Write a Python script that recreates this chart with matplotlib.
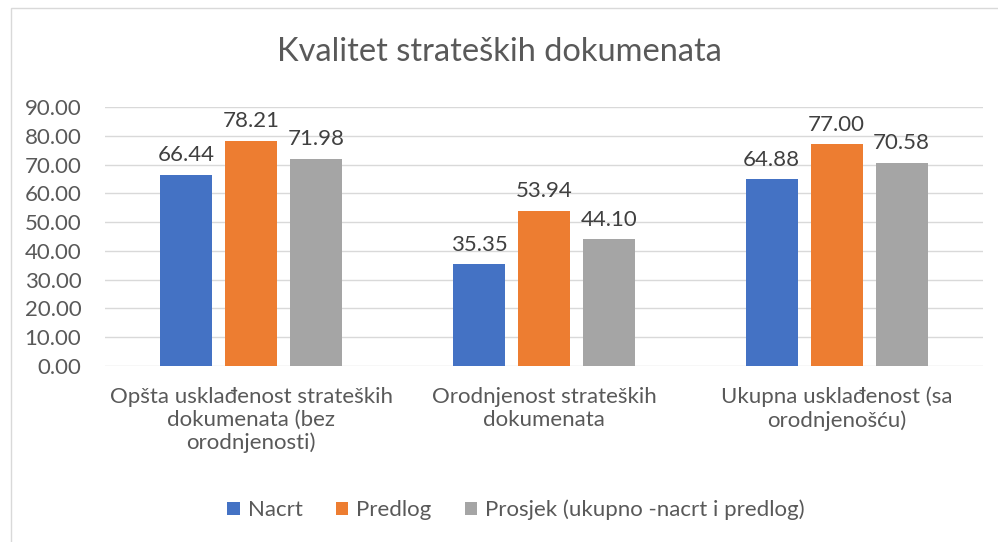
import numpy as np
import matplotlib
matplotlib.use('Agg')
import matplotlib.pyplot as plt
from matplotlib.patches import Rectangle

categories = ['Opšta usklađenost strateških\ndokumenata (bez\norodnjenosti)',
              'Orodnjenost strateških\ndokumenata',
              'Ukupna usklađenost (sa\norodnjenošću)']
series_names = ['Nacrt', 'Predlog', 'Prosjek (ukupno -nacrt i predlog)']
nacrt = [66.44, 35.35, 64.88]
predlog = [78.21, 53.94, 77.00]
prosjek = [71.98, 44.10, 70.58]
yticks = [0, 10, 20, 30, 40, 50, 60, 70, 80, 90]

colors = ['#4472C4', '#ED7D31', '#A5A5A5']
plt.rcParams['font.family'] = ['Lato', 'DejaVu Sans']

fig = plt.figure(figsize=(9.98, 5.42), dpi=100)
ax = fig.add_axes([105 / 998, 1 - 366 / 542, 878 / 998, 259 / 542])

# chart border (only left and top visible in the crop)
fig.patches.append(Rectangle((11 / 998, -0.1), 1.2, 1 - 8 / 542 + 0.1,
                             transform=fig.transFigure, fill=False,
                             edgecolor='#D9D9D9', lw=1))

x = np.arange(len(categories))
width = 0.178
step = 0.222
for i, (vals, name) in enumerate(zip([nacrt, predlog, prosjek], series_names)):
    bars = ax.bar(x + (i - 1) * step, vals, width, color=colors[i], label=name, zorder=3)
    for b, v in zip(bars, vals):
        ax.text(b.get_x() + b.get_width() / 2, v + 3.3, f'{v:.2f}',
                ha='center', va='bottom', fontsize=16, color='#404040')

ax.set_xlim(-0.5, 2.5)
ax.set_ylim(0, 90)
ax.set_yticks(yticks)
ax.set_yticklabels([f'{t:.2f}' for t in yticks])
ax.set_xticks(x)
ax.set_xticklabels(categories, linespacing=1.17)
ax.tick_params(axis='both', length=0, labelsize=16, labelcolor='#595959')
ax.tick_params(axis='x', pad=15)
ax.tick_params(axis='y', pad=17)
ax.grid(axis='y', color='#D9D9D9', lw=1, zorder=0)
for s in ax.spines.values():
    s.set_visible(False)

fig.text(0.5, 1 - 52 / 542, 'Kvalitet strateških dokumenata', ha='center', va='center',
         fontsize=23.5, color='#595959')

fig.legend(loc='center', bbox_to_anchor=(516 / 998, 1 - 510 / 542), ncol=3, frameon=False,
           fontsize=16, labelcolor='#595959', handlelength=0.55, handleheight=0.55,
           handletextpad=0.36, columnspacing=1.5)

fig.savefig('out.png', dpi=100)
